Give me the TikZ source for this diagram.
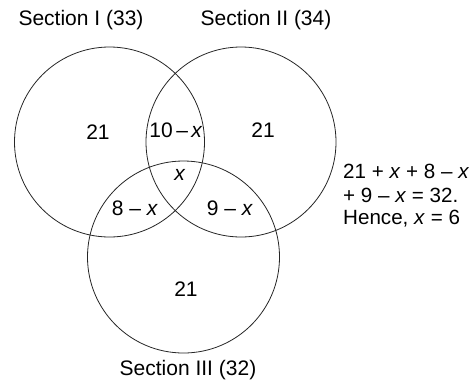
\documentclass[tikz,border=0pt]{standalone}
\usepackage{fontspec}
\setmainfont{Liberation Sans}
\begin{document}
\begin{tikzpicture}[x=1pt,y=-1pt,
  venn/.style={draw=black!85,line width=0.8pt},
  lbl/.style={inner sep=0pt,font=\fontsize{21}{24}\selectfont},
  eq/.style={inner sep=0pt,anchor=west,font=\fontsize{20.6}{24}\selectfont}]
\useasboundingbox (0,0) rectangle (476,381);
\draw[venn] (109.5,142) circle (95);
\draw[venn] (241,142) circle (95);
\draw[venn] (183.5,257) circle (96);
\node[lbl] (t1) at (81,20) {Section I (33)};
\node[lbl] (t2) at (266,20) {Section II (34)};
\node[lbl] (t3) at (188,370) {Section III (32)};
\node[lbl] (a) at (98,132) {21};
\node[lbl] (ab) at (176,130) {10\,–\,\textit{x}};
\node[lbl] (b) at (263,130) {21};
\node[lbl] (abc) at (180,175) {\textit{x}};
\node[lbl] (ac) at (135,208) {8 – \textit{x}};
\node[lbl] (bc) at (230,208) {9 – \textit{x}};
\node[lbl] (c) at (186,289) {21};
\node[eq] (e1) at (343,171) {21 + \textit{x} + 8 – \textit{x}};
\node[eq] (e2) at (343,195) {+ 9 – \textit{x} = 32.};
\node[eq] (e3) at (343,219) {Hence, \textit{x} = 6};
\end{tikzpicture}
\end{document}
